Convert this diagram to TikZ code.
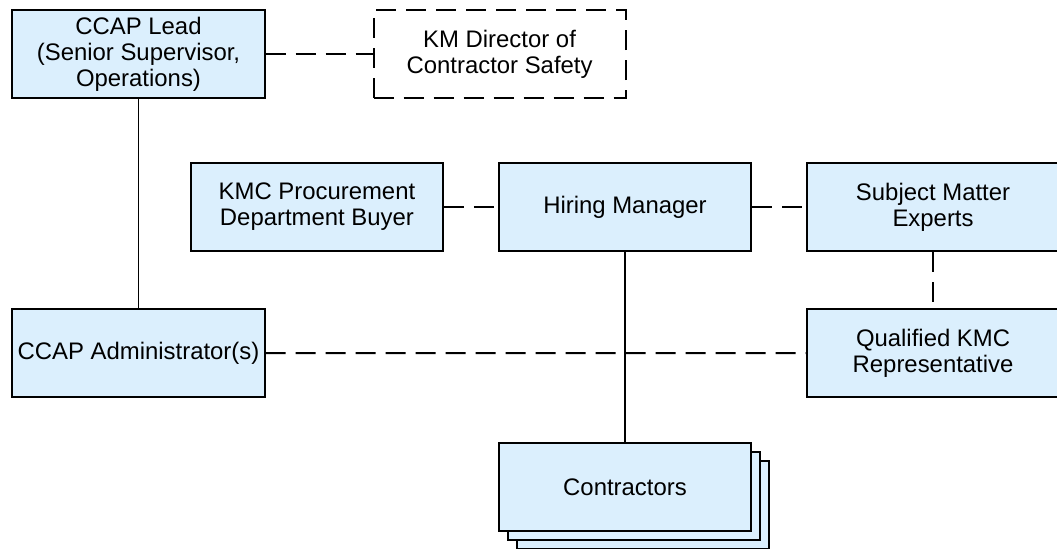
\documentclass[tikz,border=0pt]{standalone}
\usepackage{fontspec}
\setmainfont{Liberation Sans}
\usetikzlibrary{positioning,shadows}
\definecolor{boxblue}{RGB}{219,239,253}
\tikzset{
  role/.style={draw, fill=boxblue, line width=1.4pt, minimum width=6.3cm,
    minimum height=2.2cm, align=center, inner sep=2pt,
    font=\fontsize{17}{18.5}\selectfont},
  advisory role/.style={role, fill=white, dash pattern=on 0.5cm off 0.25cm},
  crew/.style={role, double copy shadow={shadow xshift=0.225cm, shadow yshift=-0.225cm}},
  link/.style={line width=1.4pt},
  loose link/.style={link, dash pattern=on 0.5cm off 0.25cm}
}
\begin{document}
\begin{tikzpicture}[x=0.025cm, y=0.025cm]
  \useasboundingbox (0,0) rectangle (1057,-548);

  % top row
  \node (lead) [role] at (138.5,-54) {CCAP Lead\\(Senior Supervisor,\\Operations)};
  \node (director) [advisory role, right=2.675cm of lead] {KM Director of\\Contractor Safety};

  % middle row
  \node (hiring) [role] at (625,-207) {Hiring Manager};
  \node (buyer) [role, left=1.35cm of hiring] {KMC Procurement\\Department Buyer};
  \node (sme) [role, right=1.35cm of hiring] {Subject Matter\\Experts};

  % lower row
  \node (admin) [role, below=5.225cm of lead] {CCAP Administrator(s)};
  \node (rep) [role, below=1.4cm of sme] {Qualified KMC\\Representative};
  \node (contractors) [crew, below=4.75cm of hiring] {Contractors};

  \draw [link] (lead) -- (admin);
  \draw [link] (hiring) -- (contractors);
  \draw [loose link] (lead) -- (director);
  \draw [loose link] (buyer) -- (hiring);
  \draw [loose link] (hiring) -- (sme);
  \draw [loose link] (sme) -- (rep);
  \draw [loose link] (admin) -- (rep);
\end{tikzpicture}
\end{document}
